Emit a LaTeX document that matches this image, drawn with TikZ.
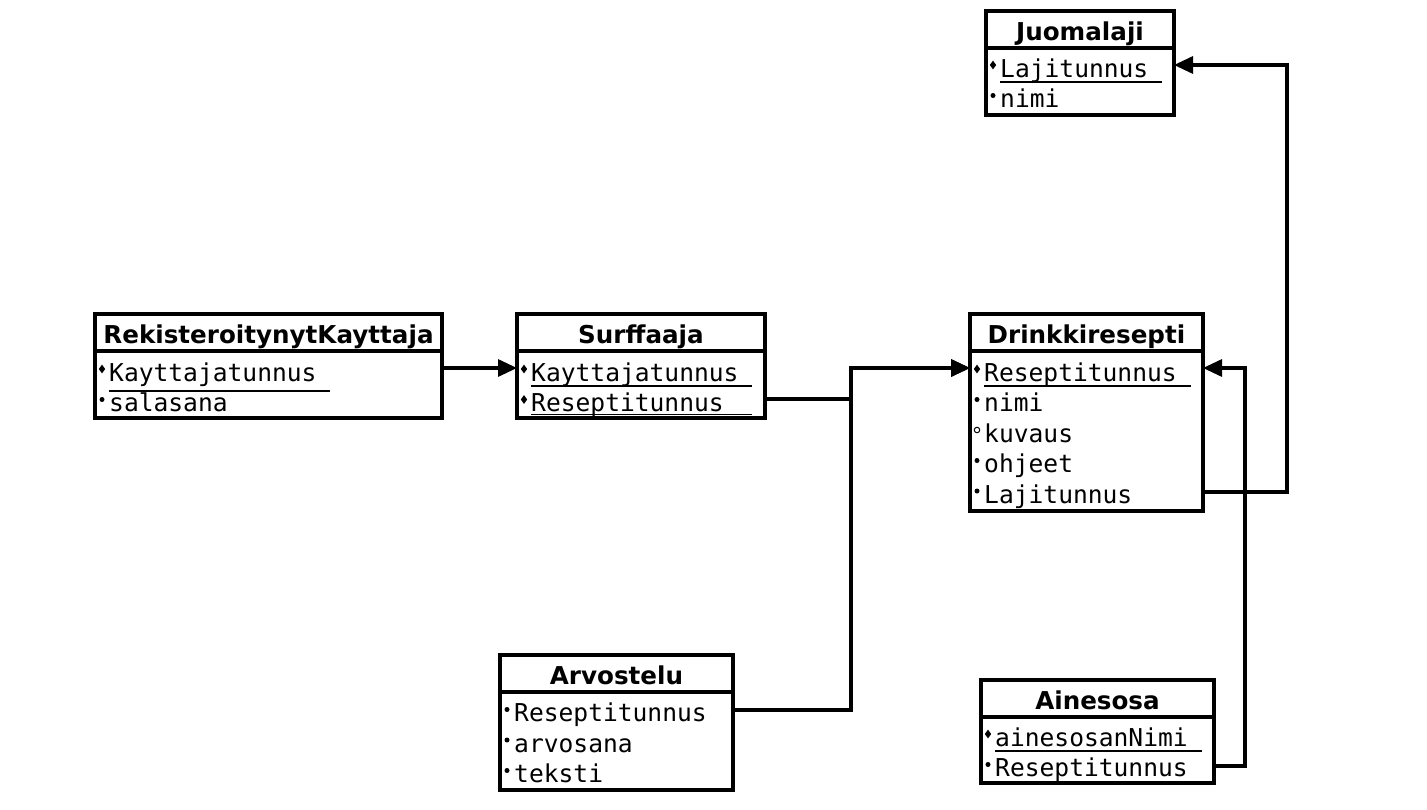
\documentclass[tikz,border=0pt]{standalone}
\usepackage{fontspec}
\setmainfont{DejaVu Sans}
\newfontfamily\monof{DejaVu Sans Mono}
\usetikzlibrary{arrows.meta,shapes.geometric}
\newcommand\attrow[5]{% name, box left x, baseline y, bullet style, text
  \node[#4] at (#2+7,#3-12) {};
  \node[att] (#1) at (#2+14,#3) {#5};
}
\newcommand\uline[3]{% name, chars, drop below baseline
  \draw[ul] ([yshift=-#3pt]#1.base west) -- ++(#2*14.75,0);
}
\begin{document}
\begin{tikzpicture}[x=1pt,y=-1pt,
  ent/.style={draw,line width=3.2pt,anchor=north west,inner sep=0pt,outer sep=0pt},
  sep/.style={line width=3.2pt},
  ttl/.style={anchor=base,inner sep=0pt,font=\bfseries\fontsize{24.6}{29}\selectfont},
  att/.style={anchor=base west,inner sep=0pt,font=\monof\fontsize{24.6}{29}\selectfont},
  kb/.style={diamond,fill,inner sep=0pt,minimum width=6.5pt,minimum height=9pt},
  mb/.style={circle,fill,inner sep=0pt,minimum size=5pt},
  ob/.style={circle,draw,line width=1pt,inner sep=0pt,minimum size=5.5pt},
  ul/.style={line width=1.3pt},
  conn/.style={line width=3.2pt,-{Triangle[length=19pt,width=17pt]}},
  ]
\useasboundingbox (0,0) rectangle (1427,809);

% RekisteroitynytKayttaja
\node[ent,minimum width=347pt,minimum height=104pt] (rk) at (95,314) {};
\draw[sep] (rk.west |- 0,351) -- (rk.east |- 0,351);
\node[ttl] (rkt) at (268.5,343) {RekisteroitynytKayttaja};
\attrow{rk1}{95}{381}{kb}{Kayttajatunnus}
\uline{rk1}{15}{10}
\attrow{rk2}{95}{411.5}{mb}{salasana}

% Surffaaja
\node[ent,minimum width=248pt,minimum height=104pt] (sf) at (517,314) {};
\draw[sep] (sf.west |- 0,351) -- (sf.east |- 0,351);
\node[ttl] (sft) at (641,343) {Surffaaja};
\attrow{sf1}{517}{381}{kb}{Kayttajatunnus}
\uline{sf1}{15}{5}
\attrow{sf2}{517}{411.5}{kb}{Reseptitunnus}
\uline{sf2}{15}{3.2}

% Drinkkiresepti
\node[ent,minimum width=233pt,minimum height=197pt] (dr) at (970,314) {};
\draw[sep] (dr.west |- 0,351) -- (dr.east |- 0,351);
\node[ttl] (drt) at (1086.5,343) {Drinkkiresepti};
\attrow{dr1}{970}{381}{kb}{Reseptitunnus}
\uline{dr1}{14}{5}
\attrow{dr2}{970}{411.5}{mb}{nimi}
\attrow{dr3}{970}{442}{ob}{kuvaus}
\attrow{dr4}{970}{472.5}{mb}{ohjeet}
\attrow{dr5}{970}{503}{mb}{Lajitunnus}

% Juomalaji
\node[ent,minimum width=188pt,minimum height=104pt] (jm) at (986,11) {};
\draw[sep] (jm.west |- 0,48) -- (jm.east |- 0,48);
\node[ttl] (jmt) at (1080,40) {Juomalaji};
\attrow{jm1}{986}{77}{kb}{Lajitunnus}
\uline{jm1}{11}{5}
\attrow{jm2}{986}{107.5}{mb}{nimi}

% Arvostelu
\node[ent,minimum width=233pt,minimum height=135pt] (av) at (500,655) {};
\draw[sep] (av.west |- 0,692) -- (av.east |- 0,692);
\node[ttl] (avt) at (616.5,684) {Arvostelu};
\attrow{av1}{500}{721.5}{mb}{Reseptitunnus}
\attrow{av2}{500}{752}{mb}{arvosana}
\attrow{av3}{500}{782.5}{mb}{teksti}

% Ainesosa
\node[ent,minimum width=233pt,minimum height=103pt] (ai) at (981,680) {};
\draw[sep] (ai.west |- 0,717) -- (ai.east |- 0,717);
\node[ttl] (ait) at (1097.5,709) {Ainesosa};
\attrow{ai1}{981}{746}{kb}{ainesosanNimi}
\uline{ai1}{14}{5}
\attrow{ai2}{981}{776.5}{mb}{Reseptitunnus}

% connectors
\coordinate (j1) at (851,368);
\coordinate (j2) at (1287,65);
\coordinate (j3) at (1245,368);
\draw[conn] (rk.east |- 0,368) -- (sf.west |- 0,368);
\draw[conn] (sf.east |- 0,399) -| (j1) -- (dr.west |- 0,368);
\draw[conn] (av.east |- 0,710) -| (j1) -- (dr.west |- 0,368);
\draw[conn] (dr.east |- 0,492) -| (j2) -- (jm.east |- 0,65);
\draw[conn] (ai.east |- 0,766) -| (j3) -- (dr.east |- 0,368);
\end{tikzpicture}
\end{document}
